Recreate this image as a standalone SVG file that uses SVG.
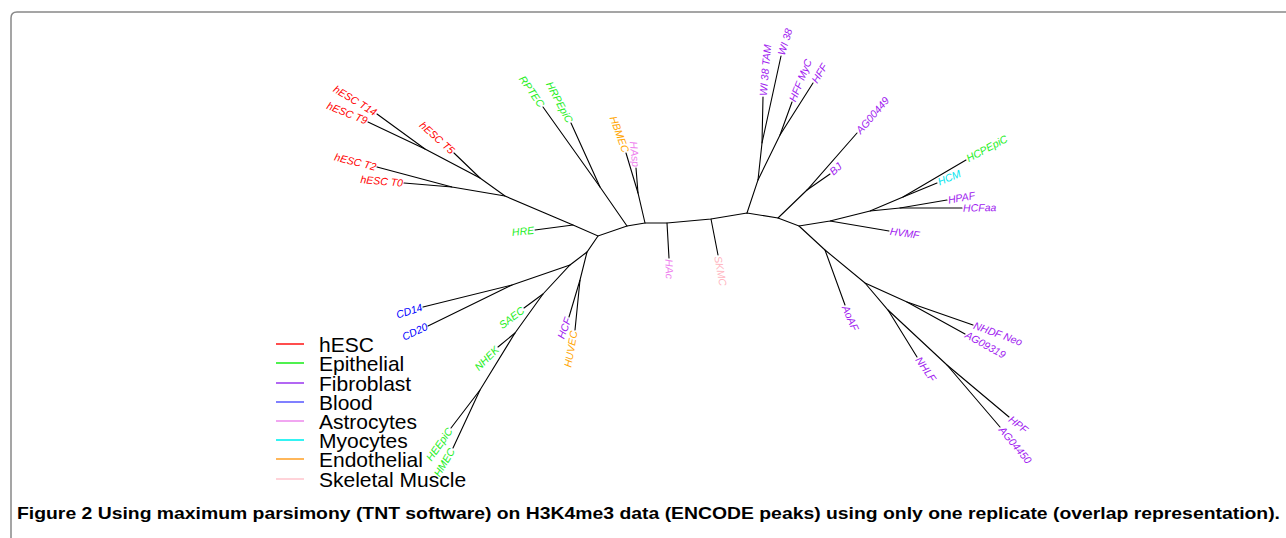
<svg xmlns="http://www.w3.org/2000/svg" width="1286" height="538" viewBox="0 0 1286 538">
<style>
.e{fill:none;stroke:#000;stroke-width:1.1;stroke-linecap:round}
.l{font-family:"Liberation Sans",Arial,sans-serif;font-style:italic;font-size:10.5px}
.s{text-anchor:start}.n{text-anchor:end}
.r{fill:#ff0000}.g{fill:#22ee22}.p{fill:#a020f0}.b{fill:#0000ff}.v{fill:#ee82ee}.c{fill:#00e5ee}.o{fill:#ffa500}.k{fill:#ffb6c1}
.lg{font-family:"Liberation Sans",Arial,sans-serif;font-size:21px;fill:#000}
.ll{stroke-width:1.6}
</style>
<rect width="1286" height="538" fill="#fff"/>
<path d="M11,538 V18 Q11,12 17,12 H1286" fill="none" stroke="#888" stroke-width="1.5"/>
<g id="connectors" class="e">
<polyline points="377,114 425,149 480,178 505,196 573,225 598,236 627,226 645,223 667,223 711,219 747,213 778,218 799,226 830,221 870,211 903,197 966,160"/>
<line x1="368" y1="122" x2="425" y2="149"/>
<line x1="454" y1="153" x2="480" y2="178"/>
<polyline points="377,167 452,187 505,196"/>
<line x1="404" y1="183" x2="452" y2="187"/>
<line x1="535" y1="230" x2="573" y2="225"/>
<polyline points="543,107 600,187 627,226"/>
<line x1="571" y1="123" x2="600" y2="187"/>
<polyline points="626,153 638,193 645,223"/>
<line x1="636" y1="168" x2="638" y2="193"/>
<line x1="667" y1="223" x2="669" y2="258"/>
<line x1="711" y1="219" x2="718" y2="255"/>
<polyline points="747,213 758,180 762,143 763,97"/>
<line x1="762" y1="143" x2="781" y2="56"/>
<polyline points="758,180 780,135 813,83"/>
<line x1="780" y1="135" x2="792" y2="102"/>
<polyline points="778,218 807,190 857,133"/>
<line x1="807" y1="190" x2="830" y2="174"/>
<line x1="830" y1="221" x2="889" y2="231"/>
<line x1="903" y1="197" x2="937" y2="183"/>
<polyline points="870,211 900,208 962,208"/>
<line x1="900" y1="208" x2="947" y2="200"/>
<polyline points="799,226 825,250 865,283 907,302 973,325"/>
<line x1="907" y1="302" x2="965" y2="334"/>
<line x1="825" y1="250" x2="845" y2="305"/>
<polyline points="865,283 888,310 947,365 1009,417"/>
<line x1="947" y1="365" x2="1000" y2="427"/>
<line x1="888" y1="310" x2="917" y2="357"/>
<polyline points="598,236 587,252 570,265 543,294 515,333 480,390 451,428"/>
<line x1="480" y1="390" x2="453" y2="448"/>
<line x1="515" y1="333" x2="498" y2="347"/>
<line x1="543" y1="294" x2="524" y2="308"/>
<polyline points="570,265 512,285 423,307"/>
<line x1="512" y1="285" x2="428" y2="326"/>
<polyline points="587,252 580,280 569,317"/>
<line x1="580" y1="280" x2="575" y2="330"/>
</g>
<g id="node-hESC-T14"><text class="l n r" dy="0.35em" transform="translate(376,113) rotate(31)">hESC T14</text></g>
<g id="node-hESC-T9"><text class="l n r" dy="0.35em" transform="translate(367,121) rotate(22)">hESC T9</text></g>
<g id="node-hESC-T5"><text class="l n r" dy="0.35em" transform="translate(453,152) rotate(42)">hESC T5</text></g>
<g id="node-hESC-T2"><text class="l n r" dy="0.35em" transform="translate(376,167) rotate(14)">hESC T2</text></g>
<g id="node-hESC-T0"><text class="l n r" dy="0.35em" transform="translate(403,183) rotate(5)">hESC T0</text></g>
<g id="node-HRE"><text class="l n g" dy="0.35em" transform="translate(534,230) rotate(-6)">HRE</text></g>
<g id="node-RPTEC"><text class="l n g" dy="0.35em" transform="translate(542,106) rotate(55)">RPTEC</text></g>
<g id="node-HRPEpiC"><text class="l n g" dy="0.35em" transform="translate(570,122) rotate(62)">HRPEpiC</text></g>
<g id="node-HBMEC"><text class="l n o" dy="0.35em" transform="translate(626,152) rotate(70)">HBMEC</text></g>
<g id="node-HAsp"><text class="l n v" dy="0.35em" transform="translate(636,167) rotate(84)">HAsp</text></g>
<g id="node-HAc"><text class="l s v" dy="0.35em" transform="translate(669,259) rotate(88)">HAc</text></g>
<g id="node-SKMC"><text class="l s k" dy="0.35em" transform="translate(718,256) rotate(80)">SKMC</text></g>
<g id="node-WI38TAM"><text class="l s p" dy="0.35em" transform="translate(763,96) rotate(-85)">WI 38 TAM</text></g>
<g id="node-WI38"><text class="l s p" dy="0.35em" transform="translate(781,55) rotate(-73)">WI 38</text></g>
<g id="node-HFFMyC"><text class="l s p" dy="0.35em" transform="translate(792,101) rotate(-68)">HFF MyC</text></g>
<g id="node-HFF"><text class="l s p" dy="0.35em" transform="translate(814,82) rotate(-58)">HFF</text></g>
<g id="node-AG00449"><text class="l s p" dy="0.35em" transform="translate(858,132) rotate(-49)">AG00449</text></g>
<g id="node-BJ"><text class="l s p" dy="0.35em" transform="translate(831,173) rotate(-42)">BJ</text></g>
<g id="node-HCPEpiC"><text class="l s g" dy="0.35em" transform="translate(967,159) rotate(-28)">HCPEpiC</text></g>
<g id="node-HCM"><text class="l s c" dy="0.35em" transform="translate(938,182) rotate(-22)">HCM</text></g>
<g id="node-HPAF"><text class="l s p" dy="0.35em" transform="translate(948,200) rotate(-10)">HPAF</text></g>
<g id="node-HCFaa"><text class="l s p" dy="0.35em" transform="translate(963,208) rotate(-1)">HCFaa</text></g>
<g id="node-HVMF"><text class="l s p" dy="0.35em" transform="translate(890,231) rotate(8)">HVMF</text></g>
<g id="node-AoAF"><text class="l s p" dy="0.35em" transform="translate(845,306) rotate(66)">AoAF</text></g>
<g id="node-NHDFNeo"><text class="l s p" dy="0.35em" transform="translate(974,325) rotate(20)">NHDF Neo</text></g>
<g id="node-AG09319"><text class="l s p" dy="0.35em" transform="translate(966,334) rotate(29)">AG09319</text></g>
<g id="node-NHLF"><text class="l s p" dy="0.35em" transform="translate(918,358) rotate(55)">NHLF</text></g>
<g id="node-HPF"><text class="l s p" dy="0.35em" transform="translate(1010,418) rotate(38)">HPF</text></g>
<g id="node-AG04450"><text class="l s p" dy="0.35em" transform="translate(1001,428) rotate(50)">AG04450</text></g>
<g id="node-CD14"><text class="l n b" dy="0.35em" transform="translate(422,307) rotate(-17)">CD14</text></g>
<g id="node-CD20"><text class="l n b" dy="0.35em" transform="translate(427,326) rotate(-25)">CD20</text></g>
<g id="node-SAEC"><text class="l n g" dy="0.35em" transform="translate(523,309) rotate(-37)">SAEC</text></g>
<g id="node-NHEK"><text class="l n g" dy="0.35em" transform="translate(497,348) rotate(-45)">NHEK</text></g>
<g id="node-HEEpiC"><text class="l n g" dy="0.35em" transform="translate(450,429) rotate(-55)">HEEpiC</text></g>
<g id="node-HMEC"><text class="l n g" dy="0.35em" transform="translate(452,449) rotate(-60)">HMEC</text></g>
<g id="node-HCF"><text class="l n p" dy="0.35em" transform="translate(568,318) rotate(-70)">HCF</text></g>
<g id="node-HUVEC"><text class="l n o" dy="0.35em" transform="translate(574,331) rotate(-80)">HUVEC</text></g>
<g id="legend">
<line class="ll" x1="276" y1="344" x2="304" y2="344" stroke="#ff2020"/>
<line class="ll" x1="276" y1="363" x2="304" y2="363" stroke="#22ee22"/>
<line class="ll" x1="276" y1="383" x2="304" y2="383" stroke="#a040f0"/>
<line class="ll" x1="276" y1="402" x2="304" y2="402" stroke="#6060ff"/>
<line class="ll" x1="276" y1="421" x2="304" y2="421" stroke="#ee90ee"/>
<line class="ll" x1="276" y1="440" x2="304" y2="440" stroke="#00f0f0"/>
<line class="ll" x1="276" y1="459" x2="304" y2="459" stroke="#ffa530"/>
<line class="ll" x1="276" y1="479" x2="304" y2="479" stroke="#ffc8d0"/>
<text class="lg" x="319" y="352">hESC</text>
<text class="lg" x="319" y="371">Epithelial</text>
<text class="lg" x="319" y="391">Fibroblast</text>
<text class="lg" x="319" y="410">Blood</text>
<text class="lg" x="319" y="429">Astrocytes</text>
<text class="lg" x="319" y="448">Myocytes</text>
<text class="lg" x="319" y="467">Endothelial</text>
<text class="lg" x="319" y="487">Skeletal Muscle</text>
</g>
<text x="17" y="519" font-family="'Liberation Sans',Arial,sans-serif" font-size="17" font-weight="bold" fill="#000" textLength="1263" lengthAdjust="spacingAndGlyphs">Figure 2 Using maximum parsimony (TNT software) on H3K4me3 data (ENCODE peaks) using only one replicate (overlap representation).</text>
</svg>
